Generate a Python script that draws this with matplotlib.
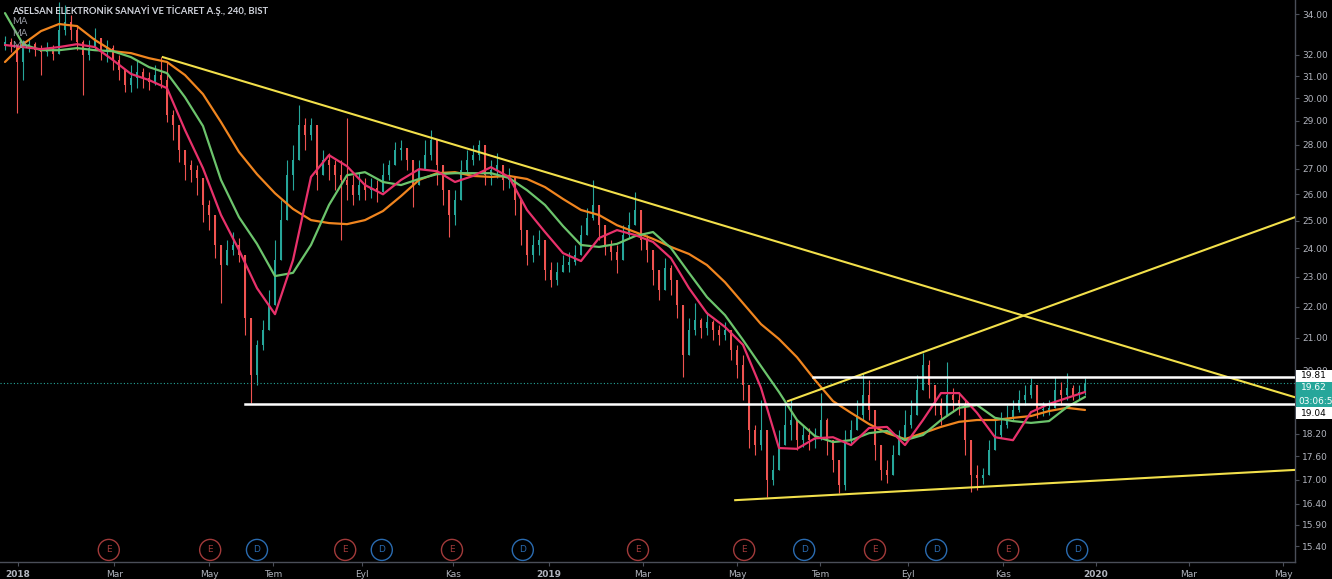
import numpy as np
import matplotlib
matplotlib.use("Agg")
import matplotlib.pyplot as plt
from matplotlib.patches import Rectangle
from matplotlib.ticker import NullLocator
import matplotlib.transforms as mtransforms

# ---------------- data ----------------
title = "ASELSAN ELEKTRONİK SANAYİ VE TİCARET A.Ş., 240, BIST"
ma_labels = ["MA", "MA", "MA"]

first_open = 32.40
closes = [
    32.61, 32.47, 31.66, 32.32, 32.51, 32.22, 32.13, 32.32, 32.03, 33.20,
    33.60, 33.20, 32.61, 31.98, 32.32, 32.81, 32.22, 32.32, 31.75, 31.28,
    30.59, 30.91, 31.19, 30.91, 30.73, 31.05, 30.82, 29.25, 28.82, 27.77,
    27.15, 26.95, 26.64, 25.59, 25.21, 24.11, 23.40, 23.93, 24.11, 23.75,
    21.62, 19.86, 20.78, 21.24, 22.05, 23.57, 25.02, 26.75, 27.36, 28.82,
    28.40, 28.82, 26.75, 27.36, 27.15, 26.75, 26.56, 26.36, 25.97, 26.36,
    26.16, 26.24, 26.08, 26.75, 27.15, 27.77, 27.85, 27.36, 26.36, 26.95,
    27.56, 28.19, 27.15, 26.16, 25.21, 25.78, 26.95, 27.36, 27.56, 27.98,
    26.75, 26.95, 27.15, 26.56, 26.64, 25.78, 24.65, 23.75, 24.11, 24.29,
    23.23, 22.88, 23.16, 23.40, 23.50, 23.75, 24.47, 25.10, 25.59, 24.83,
    24.11, 23.86, 23.57, 24.47, 24.83, 25.40, 24.29, 23.93, 23.23, 22.54,
    23.30, 22.88, 22.05, 20.47, 21.24, 21.56, 21.30, 21.49, 21.24, 21.08,
    21.24, 20.62, 20.16, 19.57, 18.30, 17.90, 18.30, 16.99, 17.25, 17.90,
    18.44, 18.58, 18.03, 18.17, 18.03, 18.09, 18.58, 18.03, 17.50, 16.87,
    18.03, 18.30, 18.72, 19.28, 18.86, 17.90, 17.25, 17.12, 17.64, 18.03,
    18.44, 18.72, 19.43, 20.16, 19.57, 19.00, 18.72, 19.28, 19.14, 19.00,
    18.03, 17.12, 17.04, 17.12, 17.77, 18.17, 18.44, 18.64, 18.86, 19.14,
    19.28, 19.57, 18.86, 18.86, 18.92, 19.43, 19.28, 19.49, 19.28, 19.37,
    19.62,
]
highs = [
    32.91, 32.81, 32.51, 32.71, 32.81, 32.61, 32.47, 32.61, 32.47, 34.62,
    34.46, 33.95, 33.45, 32.71, 32.71, 33.30, 32.71, 32.71, 32.47, 31.98,
    31.28, 31.51, 31.75, 31.38, 31.19, 31.51, 31.89, 31.66, 29.47, 28.82,
    27.77, 27.36, 27.15, 26.36, 25.78, 24.83, 23.93, 24.29, 24.58, 24.36,
    21.95, 21.56, 20.93, 21.56, 22.54, 24.29, 25.78, 27.36, 27.98, 29.69,
    29.13, 29.13, 28.19, 27.77, 27.64, 27.36, 27.36, 29.13, 26.75, 26.87,
    26.64, 26.64, 26.56, 27.23, 27.36, 28.11, 28.19, 27.85, 27.36, 27.36,
    28.19, 28.61, 27.77, 27.15, 25.97, 26.16, 27.36, 27.77, 27.98, 28.19,
    27.77, 27.36, 27.64, 27.03, 27.03, 26.56, 25.78, 24.65, 24.47, 24.65,
    24.29, 23.50, 23.50, 23.75, 23.86, 24.11, 24.83, 25.48, 26.56, 25.59,
    24.83, 24.29, 24.11, 24.83, 25.32, 26.08, 25.21, 24.47, 23.93, 23.23,
    23.64, 23.40, 22.71, 21.88, 21.62, 22.11, 21.62, 21.82, 21.56, 21.40,
    21.49, 21.24, 20.78, 20.47, 19.28, 18.44, 19.14, 17.90, 17.64, 18.30,
    19.00, 19.14, 18.44, 18.44, 18.36, 18.36, 19.34, 18.64, 18.03, 17.38,
    18.30, 18.58, 19.14, 19.92, 19.72, 18.86, 17.64, 17.50, 17.90, 18.30,
    18.86, 19.14, 19.86, 20.52, 20.31, 19.57, 19.20, 20.25, 19.49, 19.37,
    19.14, 18.03, 17.38, 17.30, 18.03, 18.58, 18.80, 19.00, 19.14, 19.43,
    19.57, 19.78, 19.37, 19.08, 19.14, 19.81, 19.66, 19.92, 19.57, 19.57,
    19.78,
]
lows = [
    32.22, 32.13, 29.34, 30.82, 32.13, 31.94, 31.05, 31.94, 31.75, 32.22,
    32.95, 32.71, 32.22, 30.14, 31.75, 32.22, 31.75, 31.66, 31.28, 30.82,
    30.27, 30.27, 30.45, 30.45, 30.36, 30.59, 30.45, 28.95, 28.19, 27.28,
    26.56, 26.48, 25.97, 24.95, 24.65, 23.64, 22.11, 23.40, 23.75, 23.50,
    21.08, 19.05, 19.57, 20.62, 21.40, 22.71, 23.93, 25.02, 26.16, 27.56,
    27.77, 28.19, 26.16, 26.75, 26.56, 26.16, 24.29, 25.78, 25.59, 25.78,
    25.78, 25.86, 25.70, 26.36, 26.56, 27.28, 27.36, 26.95, 25.51, 26.36,
    26.95, 27.36, 26.36, 25.59, 24.40, 24.83, 26.36, 26.75, 27.15, 27.36,
    26.36, 26.36, 26.64, 26.16, 26.24, 25.21, 24.11, 23.40, 23.50, 23.75,
    22.88, 22.64, 22.71, 23.16, 23.16, 23.40, 23.93, 24.58, 25.02, 24.29,
    23.75, 23.57, 23.13, 23.93, 24.36, 24.83, 23.93, 23.50, 22.71, 22.21,
    22.71, 22.38, 21.62, 19.81, 20.62, 21.08, 20.99, 21.08, 20.93, 20.78,
    20.93, 20.31, 19.78, 19.14, 17.82, 17.64, 17.77, 16.56, 16.87, 17.25,
    17.90, 18.03, 17.77, 17.85, 17.77, 17.82, 18.03, 17.64, 17.20, 16.67,
    16.74, 17.90, 18.30, 18.58, 18.58, 17.50, 16.99, 16.91, 17.25, 17.64,
    18.17, 18.36, 19.00, 19.57, 19.20, 18.72, 18.44, 18.86, 18.80, 18.72,
    17.64, 16.69, 16.74, 16.89, 17.45, 17.90, 18.08, 18.36, 18.58, 18.80,
    19.00, 19.20, 18.64, 18.69, 18.72, 19.00, 19.00, 19.14, 19.14, 19.14,
    19.28,
]

# moving averages, sampled every 3 bars
ma_step = 3
ma_fast = [
    32.47, 32.37, 32.27, 32.37, 32.51, 32.37, 31.75, 31.10, 30.82, 30.45,
    28.61, 27.03, 25.21, 23.93, 22.61, 21.75, 23.57, 26.68, 27.56, 27.11,
    26.36, 26.00, 26.56, 26.99, 26.91, 26.48, 26.72, 27.07, 26.68, 25.40,
    24.58, 23.82, 23.54, 24.36, 24.65, 24.47, 24.22, 23.64, 22.61, 21.78,
    21.34, 20.78, 19.49, 17.82, 17.80, 18.08, 18.11, 17.90, 18.36, 18.39,
    17.90, 18.58, 19.34, 19.34, 18.78, 18.11, 18.03, 18.80, 19.03, 19.20,
    19.37,
]
ma_mid = [
    34.05, 32.51, 32.22, 32.22, 32.32, 32.22, 32.17, 31.89, 31.42, 31.14,
    30.04, 28.78, 26.56, 25.13, 24.15, 23.02, 23.13, 24.11, 25.59, 26.75,
    26.87, 26.48, 26.36, 26.60, 26.79, 26.83, 26.83, 26.83, 26.64, 26.16,
    25.59, 24.80, 24.11, 24.04, 24.15, 24.43, 24.58, 24.00, 23.13, 22.31,
    21.72, 20.93, 20.13, 19.37, 18.58, 18.14, 17.98, 18.03, 18.22, 18.28,
    18.03, 18.17, 18.58, 18.92, 19.00, 18.64, 18.55, 18.50, 18.55, 18.94,
    19.23,
]
ma_slow = [
    31.66, 32.51, 33.15, 33.50, 33.40, 32.71, 32.17, 32.08, 31.84, 31.66,
    31.05, 30.18, 28.95, 27.69, 26.79, 26.04, 25.44, 25.02, 24.91, 24.87,
    25.02, 25.36, 25.93, 26.56, 26.83, 26.87, 26.72, 26.68, 26.72, 26.60,
    26.28, 25.82, 25.40, 25.21, 24.83, 24.58, 24.33, 24.04, 23.79, 23.40,
    22.81, 22.11, 21.43, 20.96, 20.40, 19.72, 19.11, 18.78, 18.47, 18.22,
    18.06, 18.22, 18.39, 18.53, 18.58, 18.58, 18.64, 18.69, 18.83, 18.92,
    18.86,
]

# drawn trend lines: (start bar, start price, end bar, end price)
trend_down = (26.3, 31.89, 215.0, 19.22)
trend_up = (130.5, 19.11, 215.0, 25.13)
trend_base = (121.7, 16.49, 215.0, 17.25)
# horizontal levels: (start bar, price)
level_low = (40.0, 19.04)
level_high = (134.7, 19.81)

last_price = 19.62
countdown = "03:06:56"

y_ticks = [34.0, 32.0, 31.0, 30.0, 29.0, 28.0, 27.0, 26.0, 25.0, 24.0,
           23.0, 22.0, 21.0, 20.0, 18.2, 17.6, 17.0, 16.4, 15.9, 15.4]
x_tick_labels = ["2018", "Mar", "May", "Tem", "Eyl", "Kas", "2019", "Mar",
                 "May", "Tem", "Eyl", "Kas", "2020", "Mar", "May"]
x_tick_bars = [2.2, 18.2, 34.0, 44.7, 59.5, 74.7, 90.7, 106.3, 122.0,
               135.8, 150.5, 166.3, 181.8, 197.3, 213.0]
event_types = ["E", "E", "D", "E", "D", "E", "D", "E", "E", "D", "E", "D", "E", "D"]
event_bars = [17.3, 34.2, 42.0, 56.7, 62.8, 74.5, 86.3, 105.5, 123.2,
              133.2, 145.0, 155.2, 167.2, 178.7]

# ---------------- style ----------------
W, H = 1332, 579
BG = "#000000"
UP = "#26a69a"
DOWN = "#ef5350"
TXT = "#b2b5be"
AXC = "#4a4e58"
YEL = "#f2e04b"

fig = plt.figure(figsize=(W / 100, H / 100), dpi=100, facecolor=BG)
ax = fig.add_axes([0, 17 / H, 1295 / W, 562 / H])
ax.set_facecolor(BG)
ax.set_yscale("log")
ax.set_ylim(15.04, 34.72)
ax.set_xlim(-0.83, 215.0)

c = np.array(closes)
o = np.concatenate([[first_open], c[:-1]])
hi = np.maximum(np.array(highs), np.maximum(o, c))
lo = np.minimum(np.array(lows), np.minimum(o, c))
x = np.arange(len(c))
up = c >= o
cols = np.where(up, UP, DOWN)

ax.vlines(x, lo, hi, colors=cols, lw=0.8, zorder=2)
bottoms = np.minimum(o, c)
heights = np.maximum(np.abs(c - o), 0.02)
ax.bar(x, heights, bottom=bottoms, width=0.42, color=cols, lw=0, zorder=2)

xm = np.arange(len(ma_fast)) * ma_step
ax.plot(xm, ma_slow, color="#f0851f", lw=1.6, zorder=3, solid_capstyle="round")
ax.plot(xm, ma_mid, color="#6cc46c", lw=1.6, zorder=3, solid_capstyle="round")
ax.plot(xm, ma_fast, color="#e8316b", lw=1.6, zorder=3, solid_capstyle="round")

for (x0, p0, x1, p1) in (trend_down, trend_up, trend_base):
    ax.plot([x0, x1], [p0, p1], color=YEL, lw=1.5, zorder=4)
for (x0, p) in (level_low, level_high):
    ax.plot([x0, 215.0], [p, p], color="white", lw=1.8, zorder=4)

ax.axhline(last_price, color=UP, lw=0.8, ls=(0, (1, 2)), zorder=1)

# axes styling
for s in ("top", "left"):
    ax.spines[s].set_visible(False)
for s in ("right", "bottom"):
    ax.spines[s].set_color(AXC)
    ax.spines[s].set_linewidth(1.0)
ax.yaxis.tick_right()
ax.set_yticks(y_ticks)
ax.set_yticklabels([f"{v:.2f}" for v in y_ticks])
ax.yaxis.set_minor_locator(NullLocator())
ax.tick_params(axis="y", colors=TXT, labelsize=6.5, length=3, pad=2, width=0.8)
ax.tick_params(axis="y", color=AXC)
ax.set_xticks(x_tick_bars)
ax.set_xticklabels(x_tick_labels)
ax.tick_params(axis="x", colors=TXT, labelsize=6.5, length=3, pad=2.5, width=0.8)
ax.tick_params(axis="x", color=AXC)
for lab in ax.get_xticklabels():
    if lab.get_text().isdigit():
        lab.set_fontweight("bold")

# events row
trans = mtransforms.blended_transform_factory(ax.transData, ax.transAxes)
for t, b in zip(event_types, event_bars):
    col = "#a13a3a" if t == "E" else "#2a6bb0"
    ax.scatter([b], [0.0215], s=230, facecolors="none", edgecolors=col,
               linewidths=1.0, transform=trans, zorder=5, clip_on=False)
    ax.text(b, 0.0215, t, color=col, fontsize=6.5, ha="center", va="center",
            transform=trans, zorder=6)

# price labels at the right
def px_box(y0, y1, fc):
    fig.patches.append(Rectangle((1296 / W, 1 - y1 / H), 36 / W, (y1 - y0) / H,
                                 transform=fig.transFigure, fc=fc, ec="none", zorder=10))

px_box(370, 382, "white")
fig.text(1301 / W, 1 - 376 / H, f"{level_high[1]:.2f}", color="black", fontsize=6.5,
         va="center", ha="left", zorder=11)
px_box(382, 407, UP)
fig.text(1301 / W, 1 - 388 / H, f"{last_price:.2f}", color="white", fontsize=6.5,
         va="center", ha="left", zorder=11)
fig.text(1298 / W, 1 - 401 / H, countdown, color="white", fontsize=6.5,
         va="center", ha="left", zorder=11)
px_box(407, 419, "white")
fig.text(1301 / W, 1 - 413 / H, f"{level_low[1]:.2f}", color="black", fontsize=6.5,
         va="center", ha="left", zorder=11)

# header texts
fig.text(12 / W, 1 - 10.5 / H, title, color="#d1d4dc", fontsize=6.8,
         fontweight="bold", family=["Lato", "DejaVu Sans"], va="center", ha="left", zorder=12)
for k, m in enumerate(ma_labels):
    fig.text(12 / W, 1 - (22 + 12 * k) / H, m, color="#9598a1", fontsize=6.8,
             family=["Lato", "DejaVu Sans"], va="center", ha="left", zorder=12)

fig.savefig("out.png", dpi=100, facecolor=BG)
